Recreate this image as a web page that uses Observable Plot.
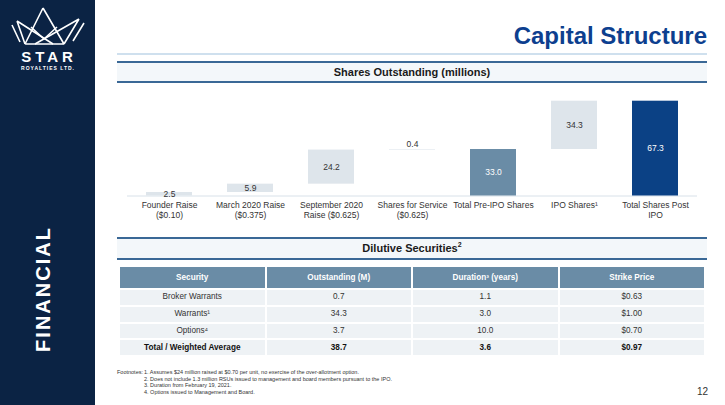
<!DOCTYPE html>
<html><head><meta charset="utf-8">
<script src="https://cdn.jsdelivr.net/npm/d3@7"></script>
<script src="https://cdn.jsdelivr.net/npm/@observablehq/plot@0.6"></script>
<style>
html,body{margin:0;padding:0;background:#fff;}
body{width:725px;height:405px;position:relative;overflow:hidden;font-family:"Liberation Sans",Arial,sans-serif;color:#222;}
.abs{position:absolute;}
.band{position:absolute;left:117px;width:590px;border-top:2px solid #3a6896;border-bottom:2px solid #3a6896;background:#f3f7fa;text-align:center;font-weight:bold;font-size:11px;color:#1a1a1a;box-sizing:border-box;}
#tbl{position:absolute;left:118px;top:265px;width:588px;border-collapse:collapse;table-layout:fixed;font-size:8.2px;color:#333;}
#tbl td,#tbl th{border:2px solid #fff;text-align:center;padding:0;line-height:10px;}
#tbl th{background:#6a8ca6;color:#fff;font-weight:bold;height:21px;}
#tbl td{background:#eef2f5;height:14.8px;}
#tbl tr.total td{font-weight:bold;color:#111;}
#foot{position:absolute;left:117px;top:369px;font-size:5.5px;line-height:6.7px;color:#333;}
#foot .lab{position:absolute;left:0;top:0;}
#foot .lines{position:absolute;left:27px;top:0;white-space:nowrap;}
</style></head><body>
<div class="abs" style="left:0;top:0;width:95px;height:405px;background:#0b2344"></div>
<svg class="abs" style="left:0;top:0" width="95" height="405">
  <g fill="none" stroke="#fff" stroke-width="1.6" stroke-linejoin="miter">
    <path d="M43,8 L25,44 M43,8 L64,44 M25,44 L64,44"/>
    <path d="M17,21 L25,44 M17,21 L53,44"/>
    <path d="M79,19 L64,44 M79,19 L35,44"/>
    <path d="M31,27 L44,39 L57,27"/>
    <path d="M12,25 L20,42 M84,23 L73,41"/>
  </g>
  <text x="49" y="62" text-anchor="middle" fill="#fff" font-weight="bold" font-size="15" letter-spacing="4" font-family="Liberation Sans, Arial">STAR</text>
  <text x="48" y="69.5" text-anchor="middle" fill="#fff" font-weight="bold" font-size="5" letter-spacing="1" font-family="Liberation Sans, Arial">ROYALTIES LTD.</text>
  <text transform="translate(50,289) rotate(-90)" text-anchor="middle" fill="#fff" font-weight="bold" font-size="20" letter-spacing="2" font-family="Liberation Sans, Arial">FINANCIAL</text>
</svg>
<div class="abs" style="right:18px;top:23px;font-size:24px;line-height:26px;font-weight:bold;color:#0d3f8f;">Capital Structure</div>
<div class="abs" style="left:117px;top:53px;width:590px;height:2px;background:#cfe0ee"></div>
<div class="band" style="top:61px;height:22px;line-height:18px;">Shares Outstanding (millions)</div>
<div id="chart" class="abs" style="left:110px;top:84px;"></div>
<div class="band" style="top:237px;height:23px;line-height:19px;">Dilutive Securities<sup style="font-size:7px;line-height:0">2</sup></div>
<table id="tbl"></table>
<div id="foot"></div>
<div class="abs" style="right:17px;top:386px;font-size:10px;color:#333;">12</div>
<script>
// ---- waterfall data ----
const categories = ["Founder Raise\n($0.10)", "March 2020 Raise\n($0.375)", "September 2020\nRaise ($0.625)", "Shares for Service\n($0.625)", "Total Pre-IPO Shares", "IPO Shares¹", "Total Shares Post\nIPO"];
const values = [2.5, 5.9, 24.2, 0.4, 33.0, 34.3, 67.3];
const kinds = ["step", "step", "step", "step", "subtotal", "step", "total"];

// ---- table data ----
const tableHeaders = ["Security", "Outstanding (M)", "Duration³ (years)", "Strike Price"];
const securities = ["Broker Warrants", "Warrants¹", "Options⁴", "Total / Weighted Average"];
const outstanding = ["0.7", "34.3", "3.7", "38.7"];
const durations = ["1.1", "3.0", "10.0", "3.6"];
const strikes = ["$0.63", "$1.00", "$0.70", "$0.97"];

const footnotes = [
  "1. Assumes $24 million raised at $0.70 per unit, no exercise of the over-allotment option.",
  "2. Does not include 1.3 million RSUs issued to management and board members pursuant to the IPO.",
  "3. Duration from February 19, 2021.",
  "4. Options issued to Management and Board."
];

let run = 0;
const bars = categories.map((c, i) => {
  const v = values[i];
  let y1, y2;
  if (kinds[i] === "step") { y1 = run; y2 = run + v; run = y2; }
  else { y1 = 0; y2 = v; run = v; }
  return {c, v, y1, y2, kind: kinds[i]};
});
const fillOf = {step: "#dee5eb", subtotal: "#6a8ca6", total: "#0b4185"};
const textOf = {step: "#333333", subtotal: "#ffffff", total: "#ffffff"};

const chart = Plot.plot({
  width: 600, height: 140,
  marginLeft: 17, marginRight: 13, marginTop: 16.7, marginBottom: 28.5,
  style: {fontFamily: '"Liberation Sans", Arial, sans-serif', fontSize: "8.5px", color: "#333", background: "transparent", display: "block"},
  x: {domain: categories, paddingInner: 0.435, paddingOuter: 0.2175, label: null},
  y: {domain: [0, 67.3], axis: null},
  marks: [
    Plot.ruleY([0], {stroke: "#d8e1e9", strokeWidth: 1}),
    Plot.barY(bars, {x: "c", y1: "y1", y2: "y2", fill: d => fillOf[d.kind]}),
    Plot.text(bars.filter(d => d.v >= 1), {x: "c", y: d => (d.y1 + d.y2) / 2, text: d => d.v.toFixed(1), fill: d => textOf[d.kind], fontSize: 8.5}),
    Plot.text(bars.filter(d => d.v < 1), {x: "c", y: "y2", dy: -5, text: d => d.v.toFixed(1), fill: "#333", fontSize: 8.5}),
    Plot.axisX({tickSize: 0, tickPadding: 4, fontSize: 8.5, fill: "#333", lineHeight: 1.25, label: null})
  ]
});
document.getElementById("chart").appendChild(chart);

// table
const tbl = document.getElementById("tbl");
const thead = document.createElement("tr");
tableHeaders.forEach(h => { const th = document.createElement("th"); th.textContent = h; thead.appendChild(th); });
tbl.appendChild(thead);
securities.forEach((s, i) => {
  const tr = document.createElement("tr");
  if (i === securities.length - 1) tr.className = "total";
  [s, outstanding[i], durations[i], strikes[i]].forEach(v => { const td = document.createElement("td"); td.textContent = v; tr.appendChild(td); });
  tbl.appendChild(tr);
});

// footnotes
const foot = document.getElementById("foot");
foot.innerHTML = '<div class="lab">Footnotes:</div><div class="lines">' + footnotes.map(f => '<div>' + f.replace(/&/g, "&amp;") + '</div>').join("") + '</div>';
</script>
</body></html>
